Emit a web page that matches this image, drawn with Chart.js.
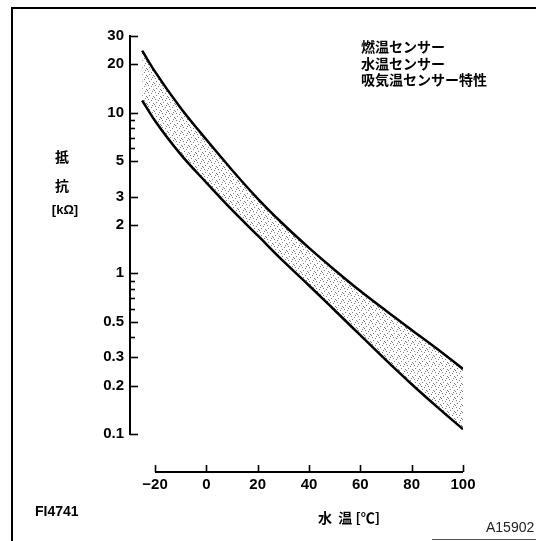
<!DOCTYPE html>
<html>
<head>
<meta charset="utf-8">
<script src="https://cdn.jsdelivr.net/npm/chart.js@4.4.1/dist/chart.umd.min.js"></script>
<style>
  html, body { margin: 0; padding: 0; background: #fff; }
</style>
</head>
<body>
<canvas id="myChart" width="536" height="541"></canvas>
<script>
// water temperature [°C] and resistance band [kΩ]
const temps  = [-25, -20, -10, 0, 10, 20, 30, 40, 50, 60, 70, 80, 90, 100];
const upperK = [24.3, 18.0, 10.7, 6.8, 4.4, 2.92, 2.02, 1.44, 1.05, 0.776, 0.585, 0.444, 0.338, 0.254];
const lowerK = [11.9, 8.9, 5.5, 3.67, 2.48, 1.72, 1.19, 0.84, 0.589, 0.412, 0.288, 0.204, 0.147, 0.107];

const xTicks  = [-20, 0, 20, 40, 60, 80, 100];
const yTicks  = [0.1, 0.2, 0.3, 0.4, 0.5, 0.6, 0.7, 0.8, 0.9, 1, 2, 3, 5, 6, 7, 8, 9, 10, 20, 30];
const yLabels = [0.1, 0.2, 0.3, 0.5, 1, 2, 3, 5, 10, 20, 30];

const noteLines = ['燃温センサー', '水温センサー', '吸気温センサー特性'];
const yTitle = ['抵', '抗', '[kΩ]'];
const xTitle = '水  温 [℃]';
const figCode = 'FI4741';
const refCode = 'A15902';

const FONT = "'Liberation Sans', Arial, sans-serif";
const JP = "'Noto Sans CJK JP', sans-serif";

// stipple fill for the tolerance band
function stipple() {
  const c = document.createElement('canvas');
  c.width = 7; c.height = 7;
  const g = c.getContext('2d');
  g.fillStyle = 'rgba(0,0,0,0.5)';
  [[1,1],[4,2],[2,4],[6,5],[5,0],[0,6]].forEach(p => g.fillRect(p[0], p[1], 1, 1));
  return g.createPattern(c, 'repeat');
}

const extras = {
  id: 'extras',
  afterDraw(chart) {
    const ctx = chart.ctx;
    const xs = chart.scales.x, ys = chart.scales.y;
    const ca = chart.chartArea;
    ctx.save();
    ctx.strokeStyle = '#000';

    // page frame
    ctx.lineWidth = 2;
    ctx.beginPath();
    ctx.moveTo(12, 541); ctx.lineTo(12, 8); ctx.lineTo(536, 8);
    ctx.stroke();
    ctx.lineWidth = 1;
    ctx.strokeStyle = '#555';
    ctx.beginPath();
    ctx.moveTo(432, 539.5); ctx.lineTo(536, 539.5);
    ctx.stroke();
    ctx.strokeStyle = '#000';

    // y ticks pointing inward
    ctx.lineWidth = 1.6;
    yTicks.forEach(v => {
      const y = Math.round(ys.getPixelForValue(v)) + 0.5;
      const len = yLabels.includes(v) ? 8 : 5;
      ctx.beginPath();
      ctx.moveTo(ca.left, y); ctx.lineTo(ca.left + len, y);
      ctx.stroke();
    });

    // detached x axis
    const axY = 472;
    ctx.lineWidth = 2;
    ctx.beginPath();
    ctx.moveTo(xs.getPixelForValue(xTicks[0]), axY);
    ctx.lineTo(xs.getPixelForValue(xTicks[xTicks.length - 1]), axY);
    ctx.stroke();
    ctx.lineWidth = 1.6;
    xTicks.forEach(v => {
      const x = Math.round(xs.getPixelForValue(v)) + 0.5;
      ctx.beginPath();
      ctx.moveTo(x, axY); ctx.lineTo(x, axY - 7);
      ctx.stroke();
    });

    // texts
    ctx.fillStyle = '#000';
    ctx.textBaseline = 'middle';
    ctx.textAlign = 'left';
    ctx.font = 'bold 14px ' + JP;
    noteLines.forEach((t, i) => ctx.fillText(t, 361, 47 + i * 16.5));

    ctx.textAlign = 'center';
    ctx.font = 'bold 14px ' + JP;
    ctx.fillText(yTitle[0], 62, 157);
    ctx.fillText(yTitle[1], 62, 186);
    ctx.font = 'bold 13px ' + FONT;
    ctx.fillText(yTitle[2], 65, 210);

    ctx.font = 'bold 14px ' + JP;
    ctx.fillText(xTitle, 349, 518);

    ctx.textAlign = 'left';
    ctx.font = 'bold 14px ' + FONT;
    ctx.fillText(figCode, 35, 512);
    ctx.font = '14px ' + FONT;
    ctx.fillStyle = '#222';
    ctx.fillText(refCode, 486, 528);
    ctx.restore();
  }
};

new Chart(document.getElementById('myChart'), {
  type: 'line',
  data: {
    datasets: [{
      data: temps.map((t, i) => ({ x: t, y: upperK[i] })),
      borderColor: '#000',
      borderWidth: 2.5,
      pointRadius: 0,
      cubicInterpolationMode: 'monotone',
      fill: '+1',
      backgroundColor: stipple()
    }, {
      data: temps.map((t, i) => ({ x: t, y: lowerK[i] })),
      borderColor: '#000',
      borderWidth: 2.5,
      pointRadius: 0,
      cubicInterpolationMode: 'monotone',
      fill: false
    }]
  },
  options: {
    responsive: false,
    animation: false,
    devicePixelRatio: 1,
    layout: { padding: { left: 20, right: 73, top: 36, bottom: 20 } },
    plugins: { legend: { display: false }, tooltip: { enabled: false } },
    scales: {
      x: {
        type: 'linear',
        min: -29.74,
        max: 100,
        grid: { display: false, drawTicks: false },
        border: { display: false },
        afterBuildTicks: s => { s.ticks = xTicks.map(v => ({ value: v })); },
        afterFit: s => { s.height = 87; },
        ticks: {
          padding: 42,
          color: '#000',
          font: { family: FONT, size: 15, weight: 'bold' },
          callback: v => (v < 0 ? '\u2212' + Math.abs(v) : String(v))
        }
      },
      y: {
        type: 'logarithmic',
        min: 0.1,
        max: 30,
        grid: { display: false, drawTicks: false },
        border: { display: true, color: '#000', width: 2 },
        afterBuildTicks: s => { s.ticks = yTicks.map(v => ({ value: v })); },
        afterFit: s => { s.width = 110; },
        ticks: {
          padding: 6,
          color: '#000',
          autoSkip: false,
          font: { family: FONT, size: 15, weight: 'bold' },
          callback: v => (yLabels.includes(v) ? String(v) : '')
        }
      }
    }
  },
  plugins: [extras]
});
</script>
</body>
</html>
